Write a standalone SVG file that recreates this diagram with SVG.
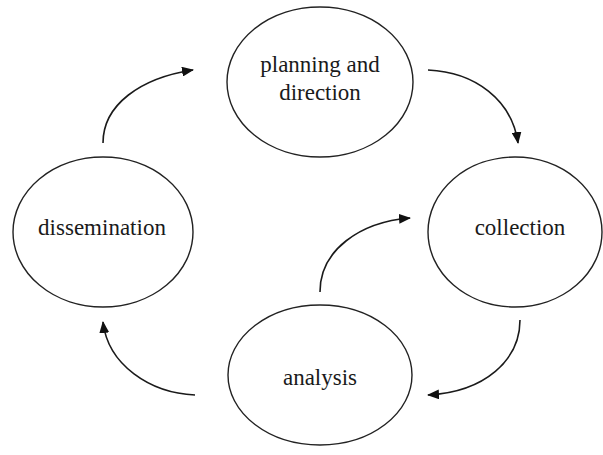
<svg xmlns="http://www.w3.org/2000/svg" width="603" height="455" viewBox="0 0 603 455">
  <style>
    .node ellipse { fill: #ffffff; stroke: #222222; stroke-width: 1.4; }
    .node text { font-family: "Liberation Serif", "Times New Roman", serif; font-size: 23px; fill: #1a1a1a; text-anchor: middle; }
    .flow path { fill: none; stroke: #1a1a1a; stroke-width: 1.6; marker-end: url(#head); }
  </style>
  <defs>
    <marker id="head" markerWidth="12" markerHeight="10" refX="11" refY="5" orient="auto" markerUnits="userSpaceOnUse">
      <path d="M0,0 L12,5 L0,10 Z" fill="#111111"/>
    </marker>
  </defs>
  <rect width="603" height="455" fill="#ffffff"/>

  <g id="planning">
    <g class="node">
      <ellipse cx="320" cy="82" rx="93" ry="75"/>
      <text x="320" y="72">planning and</text>
      <text x="320" y="100">direction</text>
    </g>
  </g>

  <g id="dissemination">
    <g class="node">
      <ellipse cx="103" cy="232" rx="90" ry="75"/>
      <text x="102" y="235">dissemination</text>
    </g>
  </g>

  <g id="collection">
    <g class="node">
      <ellipse cx="515" cy="232" rx="87" ry="75"/>
      <text x="520" y="235">collection</text>
    </g>
  </g>

  <g id="analysis">
    <g class="node">
      <ellipse cx="320" cy="375" rx="92" ry="70"/>
      <text x="320" y="385">analysis</text>
    </g>
  </g>

  <g id="connectors" class="flow">
    <path d="M103,143 C103,105 140,78 193,70"/>
    <path d="M428,70 C475,72 512,100 518,143"/>
    <path d="M320,292 C320,250 360,222 410,218"/>
    <path d="M520,320 C520,360 485,392 428,395"/>
    <path d="M195,395 C150,393 108,365 103,322"/>
  </g>
</svg>
